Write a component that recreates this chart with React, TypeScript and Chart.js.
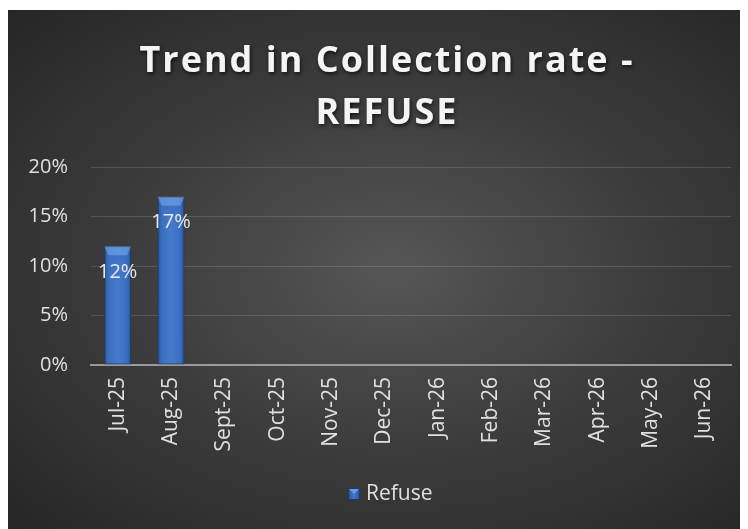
import React, { useEffect, useRef } from "react";
import { Chart, registerables } from "chart.js";

Chart.register(...registerables);

const categories = ["Jul-25", "Aug-25", "Sept-25", "Oct-25", "Nov-25", "Dec-25", "Jan-26", "Feb-26", "Mar-26", "Apr-26", "May-26", "Jun-26"];
const refuseValues: (number | null)[] = [0.12, 0.17, null, null, null, null, null, null, null, null, null, null];
const yTicks = [0, 0.05, 0.1, 0.15, 0.2];
const seriesName = "Refuse";
const titleLines = ["Trend in Collection rate -", "REFUSE"];

const BAR_PCT = 0.9;
const CAT_PCT = 0.56;
const FONT = '"Open Sans", sans-serif';

const titlePlugin = {
  id: "customTitle",
  afterDraw(chart: any) {
    const ctx = chart.ctx;
    ctx.save();
    ctx.font = `bold 36px ${FONT}`;
    (ctx as any).letterSpacing = "2px";
    ctx.fillStyle = "#f4f4f4";
    ctx.textAlign = "center";
    ctx.textBaseline = "middle";
    ctx.shadowColor = "rgba(0,0,0,0.7)";
    ctx.shadowBlur = 4;
    ctx.shadowOffsetX = 1;
    ctx.shadowOffsetY = 2;
    const cx = 379;
    ctx.fillText(titleLines[0], cx, 52);
    ctx.fillText(titleLines[1], cx, 104);
    ctx.restore();
  },
};

const legendPlugin = {
  id: "customLegend",
  afterDraw(chart: any) {
    const ctx = chart.ctx;
    ctx.save();
    ctx.font = `21px ${FONT}`;
    const tw = ctx.measureText(seriesName).width;
    const box = 12;
    const gap = 6;
    const total = box + gap + tw;
    const cx = chart.width * 0.516;
    const x0 = Math.round(cx - total / 2);
    const cy = 484;
    const g = ctx.createLinearGradient(x0, 0, x0 + box, 0);
    g.addColorStop(0, "#24508f");
    g.addColorStop(0.5, "#4479cc");
    g.addColorStop(1, "#24508f");
    ctx.fillStyle = g;
    ctx.fillRect(x0, cy - box / 2, box, box);
    ctx.fillStyle = "rgba(120,170,235,0.7)";
    ctx.beginPath();
    ctx.moveTo(x0, cy - box / 2);
    ctx.lineTo(x0 + box, cy - box / 2);
    ctx.lineTo(x0 + box / 2, cy);
    ctx.closePath();
    ctx.fill();
    ctx.strokeStyle = "#1d3a6b";
    ctx.lineWidth = 1;
    ctx.strokeRect(x0 + 0.5, cy - box / 2 + 0.5, box - 1, box - 1);
    ctx.fillStyle = "#e0e0e0";
    ctx.textAlign = "left";
    ctx.textBaseline = "middle";
    ctx.fillText(seriesName, x0 + box + gap, cy);
    ctx.restore();
  },
};

const barLabelsPlugin = {
  id: "barLabels",
  afterDatasetsDraw(chart: any) {
    const ctx = chart.ctx;
    const meta = chart.getDatasetMeta(0);
    ctx.save();
    meta.data.forEach((bar: any, i: number) => {
      const v = chart.data.datasets[0].data[i];
      if (v === null || v === undefined) return;
      const half = bar.width / 2;
      ctx.beginPath();
      ctx.moveTo(bar.x - half, bar.y);
      ctx.lineTo(bar.x + half, bar.y);
      ctx.lineTo(bar.x + half - 4, bar.y + 9);
      ctx.lineTo(bar.x - half + 4, bar.y + 9);
      ctx.closePath();
      ctx.fillStyle = "rgba(120,170,235,0.55)";
      ctx.fill();
      ctx.beginPath();
      ctx.moveTo(bar.x - half + 4, bar.y + 9);
      ctx.lineTo(bar.x + half - 4, bar.y + 9);
      ctx.lineTo(bar.x, bar.y + 18);
      ctx.closePath();
      ctx.fillStyle = "rgba(60,110,200,0.5)";
      ctx.fill();
    });
    ctx.font = `20px ${FONT}`;
    ctx.fillStyle = "#e8e8e8";
    ctx.textAlign = "center";
    ctx.textBaseline = "middle";
    meta.data.forEach((bar: any, i: number) => {
      const v = chart.data.datasets[0].data[i];
      if (v === null || v === undefined) return;
      ctx.fillText(Math.round(v * 100) + "%", bar.x, bar.y + 26);
    });
    ctx.restore();
  },
};

export default function App() {
  const canvasRef = useRef<HTMLCanvasElement | null>(null);

  useEffect(() => {
    if (!canvasRef.current) return;
    const chart = new Chart(canvasRef.current, {
      type: "bar",
      data: {
        labels: categories,
        datasets: [
          {
            label: seriesName,
            data: refuseValues as any,
            barPercentage: BAR_PCT,
            categoryPercentage: CAT_PCT,
            borderColor: "#1d3a6b",
            borderWidth: 1,
            borderSkipped: false,
            backgroundColor: (context: any) => {
              const chart = context.chart;
              const xs = chart.scales && chart.scales.x;
              if (!xs || context.dataIndex === undefined || !chart.chartArea) return "#3b6fc0";
              const cx = xs.getPixelForValue(context.dataIndex);
              const half = (xs.width / categories.length) * BAR_PCT * CAT_PCT / 2;
              if (!isFinite(cx) || !isFinite(half)) return "#3b6fc0";
              const g = chart.ctx.createLinearGradient(cx - half, 0, cx + half, 0);
              g.addColorStop(0, "#24508f");
              g.addColorStop(0.15, "#3a6fc0");
              g.addColorStop(0.5, "#4479cc");
              g.addColorStop(0.85, "#3a6fc0");
              g.addColorStop(1, "#24508f");
              return g;
            },
          },
        ],
      },
      options: {
        animation: false,
        responsive: true,
        maintainAspectRatio: false,
        layout: { padding: { left: 0, right: 17, top: 157, bottom: 54 } },
        plugins: {
          title: { display: false },
          legend: { display: false },
          tooltip: { enabled: false },
        },
        scales: {
          x: {
            afterFit: (axis: any) => {
              axis.height = 110;
            },
            grid: { display: false, drawTicks: false },
            border: { display: true, color: "#9a9a9a", width: 2 },
            ticks: {
              color: "#e0e0e0",
              font: { family: FONT, size: 21 },
              minRotation: 90,
              maxRotation: 90,
              padding: 12,
              autoSkip: false,
            },
          },
          y: {
            min: 0,
            max: 0.2,
            afterFit: (axis: any) => {
              axis.width = 83;
            },
            afterBuildTicks: (axis: any) => {
              axis.ticks = yTicks.map((v) => ({ value: v }));
            },
            grid: { color: "rgba(255,255,255,0.14)", lineWidth: 1, drawTicks: false },
            border: { display: false },
            ticks: {
              color: "#e0e0e0",
              font: { family: FONT, size: 20 },
              padding: 23,
              callback: (v: any) => Math.round(Number(v) * 100) + "%",
            },
          },
        },
      },
      plugins: [barLabelsPlugin, titlePlugin, legendPlugin],
    });
    return () => chart.destroy();
  }, []);

  return (
    <div
      style={{
        position: "relative",
        width: 740,
        height: 519,
        marginTop: 2,
        background: "radial-gradient(ellipse at 52% 50%, #565656 0%, #3e3e3e 45%, #262626 100%)",
      }}
    >
      <canvas ref={canvasRef} />
    </div>
  );
}
